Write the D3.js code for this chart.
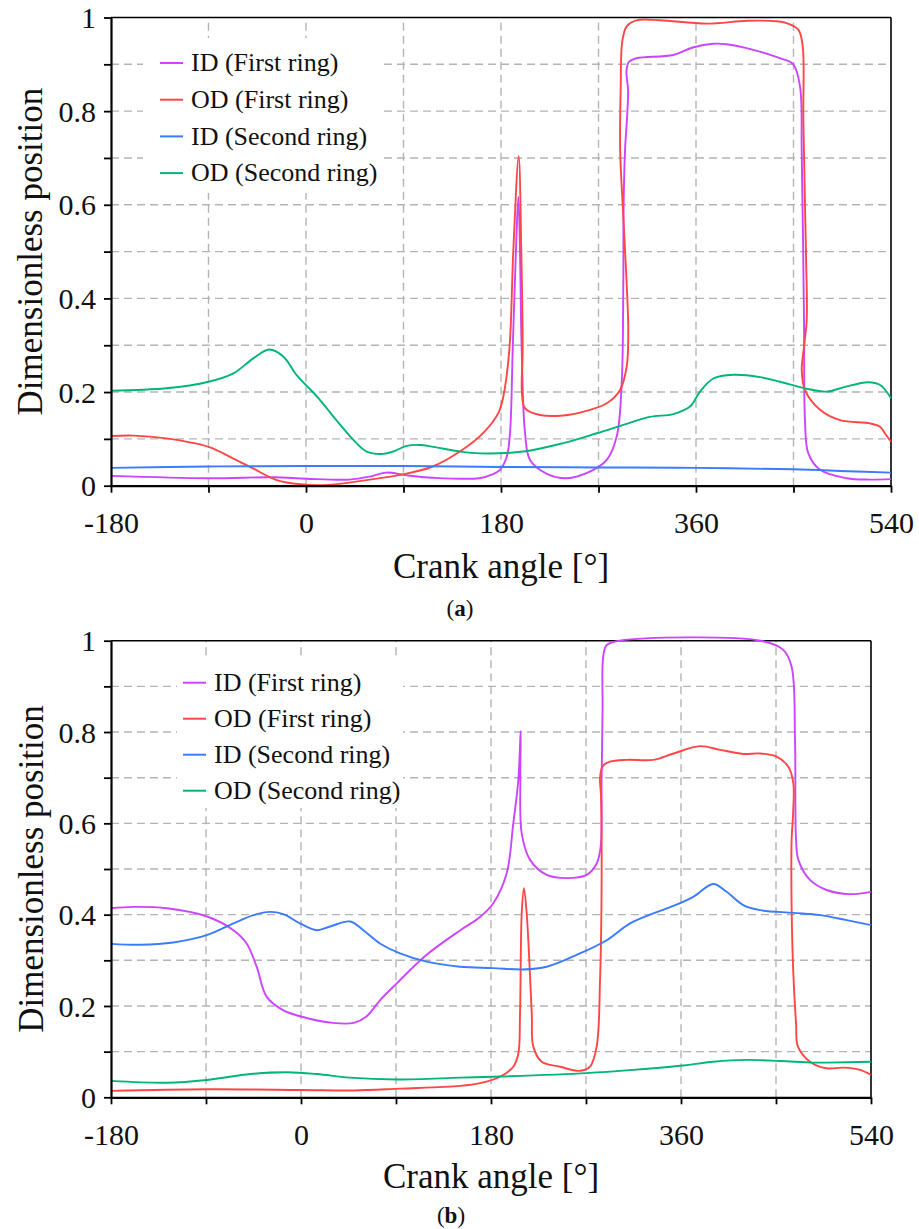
<!DOCTYPE html>
<html>
<head>
<meta charset="utf-8">
<script src="https://cdn.jsdelivr.net/npm/d3@7"></script>
<style>
  body { margin: 0; background: #fff; }
  svg text { font-family: "Liberation Serif", "DejaVu Serif", serif; }
</style>
</head>
<body>
<svg width="919" height="1229"></svg>
<script>
// legend names and colours
const seriesNames = ["ID (First ring)", "OD (First ring)", "ID (Second ring)", "OD (Second ring)"];
const seriesColors = ["#cc44ff", "#ff4646", "#3a7bff", "#00b676"];

// tick labels
const xTickLabels = [-180, 0, 180, 360, 540];
const yTickLabels = [0, 0.2, 0.4, 0.6, 0.8, 1];

// panel (a): [crank angle, dimensionless position]
const aIdFirst = [[-180,0.021],[-90,0.016],[-30,0.018],[0,0.015],[40,0.013],[60,0.02],[74,0.028],[93,0.022],[117,0.017],
  [160,0.016],[172,0.024],[179,0.034],[185.3,0.062],[188.3,0.112],[190.8,0.29],[193.8,0.503],[196,0.617],[197.5,0.503],
  [199.1,0.29],[202.2,0.112],[206.8,0.055],[222,0.026],[240.6,0.016],[262,0.03],[277.6,0.055],[286.8,0.105],[291.4,0.219],
  [292.9,0.432],[293.2,0.6],[294.5,0.717],[296.6,0.796],[297.3,0.845],[295.8,0.885],[298,0.905],[305,0.913],[339,0.92],
  [357,0.936],[376,0.944],[388,0.943],[413,0.931],[437.5,0.913],[449.8,0.9],[456,0.853],[457.6,0.71],[459.7,0.354],
  [460.6,0.14],[463.7,0.069],[474.5,0.034],[499,0.016],[520,0.013],[540,0.014]];
const aOdFirst = [[-180,0.106],[-159,0.107],[-129,0.101],[-90,0.083],[-67,0.058],[-49,0.037],[-27,0.012],[-5,0.003],
  [19,0.0015],[56,0.012],[87,0.023],[117,0.041],[142,0.073],[163.7,0.113],[177.5,0.155],[182.1,0.19],[187.7,0.29],
  [191.4,0.504],[196.3,0.704],[198.7,0.504],[200,0.29],[199.3,0.2],[202.2,0.165],[216,0.151],[237.5,0.15],[262.2,0.162],
  [277.6,0.176],[289.8,0.204],[296,0.254],[297.5,0.326],[296,0.432],[292.9,0.575],[290,0.717],[290.5,0.85],[292,0.95],
  [296,0.981],[305,0.994],[327,0.994],[370,0.987],[407,0.993],[434,0.992],[443.7,0.988],[454.5,0.974],[458.5,0.938],
  [459.1,0.781],[461.5,0.497],[462.2,0.354],[459.7,0.297],[457.6,0.247],[460.6,0.204],[474.5,0.162],[492.9,0.14],
  [520.6,0.133],[529.8,0.126],[535,0.11],[540,0.094]];
const aIdSecond = [[-180,0.038],[-90,0.041],[0,0.042],[90,0.042],[180,0.040],[270,0.039],[360,0.038],[450,0.035],
  [500,0.031],[540,0.028]];
const aOdSecond = [[-180,0.203],[-129,0.208],[-90,0.222],[-67,0.24],[-48.6,0.272],[-34,0.291],[-21,0.276],[-8.6,0.236],
  [0,0.215],[13,0.183],[28,0.14],[43.7,0.098],[56,0.073],[71.4,0.068],[80.6,0.073],[93,0.085],[105,0.087],[117.5,0.083],
  [142,0.073],[160.6,0.069],[200.6,0.073],[237.5,0.091],[268.4,0.112],[292.9,0.13],[317.5,0.147],[339,0.153],
  [354.5,0.169],[363.7,0.201],[376,0.229],[394.5,0.237],[419,0.232],[437.5,0.222],[460.6,0.208],[480.6,0.201],
  [496,0.21],[519,0.221],[530,0.215],[540,0.187]];

// panel (b): [crank angle, dimensionless position]
const bIdFirst = [[-180,0.414],[-159,0.417],[-127,0.414],[-89,0.396],[-64,0.366],[-51.5,0.337],[-42,0.286],[-32.5,0.22],
  [-17,0.191],[0,0.177],[30,0.163],[50,0.163],[62,0.177],[75,0.213],[91,0.25],[119,0.312],[151,0.366],[169.6,0.395],
  [182.2,0.425],[194.8,0.49],[201.1,0.6],[205.9,0.695],[208.1,0.802],[207.8,0.7],[209.1,0.578],[217,0.52],[232.8,0.487],
  [251.7,0.48],[270.6,0.487],[280.1,0.512],[283.9,0.549],[284.8,0.695],[285.7,0.85],[286.3,0.965],[289.5,0.99],
  [302,1.0],[435,1.0],[456.9,0.98],[464.8,0.943],[468,0.783],[469,0.564],[471.2,0.52],[482.2,0.476],[498,0.454],
  [520,0.445],[540,0.45]];
const bOdFirst = [[-180,0.014],[-89,0.0175],[0,0.016],[50,0.015],[94,0.019],[151,0.025],[169.6,0.031],[188.5,0.045],
  [201.1,0.067],[205.9,0.096],[207.5,0.184],[209.1,0.403],[211.2,0.458],[213.8,0.403],[218.6,0.184],[220.1,0.111],
  [228,0.078],[245.4,0.067],[264.3,0.058],[273.8,0.067],[280.1,0.111],[283.3,0.257],[284.8,0.476],[284.2,0.66],
  [283.3,0.7],[286,0.726],[292.7,0.735],[308.5,0.739],[334,0.739],[353,0.753],[378,0.769],[397,0.761],[419,0.752],
  [434.8,0.753],[450.6,0.746],[461.7,0.724],[466.4,0.688],[466.2,0.622],[464.8,0.564],[464.8,0.417],[466.4,0.272],
  [469,0.162],[470.8,0.111],[482.2,0.078],[498,0.0635],[513.8,0.065],[529.6,0.06],[540,0.049]];
const bIdSecond = [[-180,0.336],[-152.5,0.334],[-121,0.339],[-89.3,0.355],[-64,0.381],[-45,0.399],[-29.4,0.406],
  [-16.8,0.401],[-1,0.381],[14.9,0.366],[27.5,0.374],[46.4,0.385],[59,0.366],[74.8,0.337],[93.8,0.315],[119,0.297],
  [150.6,0.286],[182,0.283],[210.6,0.28],[232.8,0.286],[264.3,0.315],[289.6,0.344],[311.7,0.381],[333.8,0.403],
  [352.7,0.419],[371.6,0.439],[390.6,0.467],[403.2,0.45],[419,0.421],[434.8,0.41],[466.4,0.404],[491.7,0.399],
  [517,0.388],[540,0.377]];
const bOdSecond = [[-180,0.036],[-127,0.032],[-89,0.038],[-48,0.051],[-14,0.055],[15,0.051],[46,0.043],[91,0.039],
  [151,0.043],[182,0.045],[270.6,0.053],[314.8,0.06],[359,0.069],[390.6,0.078],[422,0.082],[454,0.0795],[485,0.076],
  [498,0.076],[540,0.078]];

const serif = "'Liberation Serif', 'DejaVu Serif', serif";
const svg = d3.select("svg");

function drawPanel(p, series) {
  const x = d3.scaleLinear().domain([-180, 540]).range([p.left, p.right]);
  const y = d3.scaleLinear().domain([0, 1]).range([p.bottom, p.top]);
  const g = svg.append("g");

  // dashed grid
  g.append("g").selectAll("line")
    .data(d3.range(-90, 540, 90))
    .join("line")
    .attr("x1", d => x(d)).attr("x2", d => x(d))
    .attr("y1", y(0)).attr("y2", y(1))
    .attr("stroke", "#b4b4b4").attr("stroke-width", 1.4)
    .attr("stroke-dasharray", "8,5");
  g.append("g").selectAll("line")
    .data(d3.range(1, 10).map(i => i / 10))
    .join("line")
    .attr("x1", x(-180)).attr("x2", x(540))
    .attr("y1", d => y(d)).attr("y2", d => y(d))
    .attr("stroke", "#b4b4b4").attr("stroke-width", 1.4)
    .attr("stroke-dasharray", "8,5");

  // top and right frame
  g.append("line").attr("x1", x(-180)).attr("x2", x(540)).attr("y1", y(1)).attr("y2", y(1))
    .attr("stroke", "#000").attr("stroke-width", 1.6);
  g.append("line").attr("x1", x(540)).attr("x2", x(540)).attr("y1", y(1)).attr("y2", y(0))
    .attr("stroke", "#000").attr("stroke-width", 1.6);

  // curves
  const line = d3.line()
    .x(d => x(d[0]))
    .y(d => y(d[1]))
    .curve(d3.curveCatmullRom.alpha(0.5));
  series.forEach((s, i) => {
    g.append("path")
      .datum(s)
      .attr("fill", "none")
      .attr("stroke", seriesColors[i])
      .attr("stroke-width", 1.9)
      .attr("d", line);
  });

  // axes
  const xAxis = d3.axisBottom(x)
    .tickValues(d3.range(-180, 541, 90))
    .tickSize(7).tickSizeOuter(0).tickPadding(12)
    .tickFormat(d => xTickLabels.includes(d) ? d : "");
  const gx = g.append("g").attr("transform", `translate(0,${y(0)})`).call(xAxis);
  const yAxis = d3.axisLeft(y)
    .tickValues(d3.range(0, 11).map(i => i / 10))
    .tickSize(7).tickSizeOuter(0).tickPadding(8)
    .tickFormat(d => yTickLabels.includes(d) ? d3.format("~g")(d) : "");
  const gy = g.append("g").attr("transform", `translate(${x(-180)},0)`).call(yAxis);
  [gx, gy].forEach(a => {
    a.attr("font-family", serif).attr("font-size", 30);
    a.select(".domain").attr("stroke", "#000").attr("stroke-width", 2.2);
    a.selectAll(".tick line").attr("stroke", "#000").attr("stroke-width", 1.8);
    a.selectAll(".tick text").attr("fill", "#111")
      .attr("font-family", serif).attr("font-size", 30);
  });
  gx.selectAll(".tick text").attr("dy", "0.95em");
  gy.selectAll(".tick text").attr("dy", "0.34em");

  // axis titles
  g.append("text")
    .attr("x", (p.left + p.right) / 2).attr("y", p.xTitleY)
    .attr("text-anchor", "middle").attr("fill", "#111")
    .attr("font-family", serif).attr("font-size", 35)
    .text("Crank angle [°]");
  g.append("text")
    .attr("transform", `translate(${p.yTitleX},${(p.top + p.bottom) / 2}) rotate(-90)`)
    .attr("text-anchor", "middle").attr("fill", "#111")
    .attr("font-family", serif).attr("font-size", 35)
    .text("Dimensionless position");

  // legend
  const lg = g.append("g");
  lg.append("rect")
    .attr("x", p.legend.boxX).attr("y", p.legend.boxY)
    .attr("width", p.legend.boxW).attr("height", p.legend.boxH)
    .attr("fill", "#fff");
  seriesNames.forEach((name, i) => {
    const yy = p.legend.y0 + i * p.legend.step;
    lg.append("line")
      .attr("x1", p.legend.x0).attr("x2", p.legend.x0 + 23)
      .attr("y1", yy).attr("y2", yy)
      .attr("stroke", seriesColors[i]).attr("stroke-width", 2);
    lg.append("text")
      .attr("x", p.legend.x0 + 31).attr("y", yy).attr("dy", "0.32em")
      .attr("fill", "#111")
      .attr("font-family", serif).attr("font-size", 26)
      .text(name);
  });

  // caption
  const cap = g.append("text")
    .attr("x", p.capX).attr("y", p.capY)
    .attr("text-anchor", "middle").attr("fill", "#111")
    .attr("font-family", serif).attr("font-size", 23);
  cap.append("tspan").text("(");
  cap.append("tspan").attr("font-weight", "bold").text(p.cap);
  cap.append("tspan").text(")");
}

drawPanel({
  left: 111, right: 891, top: 17.5, bottom: 485.7,
  xTitleY: 578, yTitleX: 42,
  legend: { x0: 160, y0: 63, step: 36.7, boxX: 143, boxY: 38, boxW: 240, boxH: 155 },
  capX: 460, capY: 616, cap: "a"
}, [aIdFirst, aOdFirst, aIdSecond, aOdSecond]);

drawPanel({
  left: 111, right: 871, top: 640.7, bottom: 1097.3,
  xTitleY: 1188, yTitleX: 43,
  legend: { x0: 183, y0: 682.7, step: 36, boxX: 177, boxY: 660, boxW: 226, boxH: 148 },
  capX: 451, capY: 1223, cap: "b"
}, [bIdFirst, bOdFirst, bIdSecond, bOdSecond]);
</script>
</body>
</html>
